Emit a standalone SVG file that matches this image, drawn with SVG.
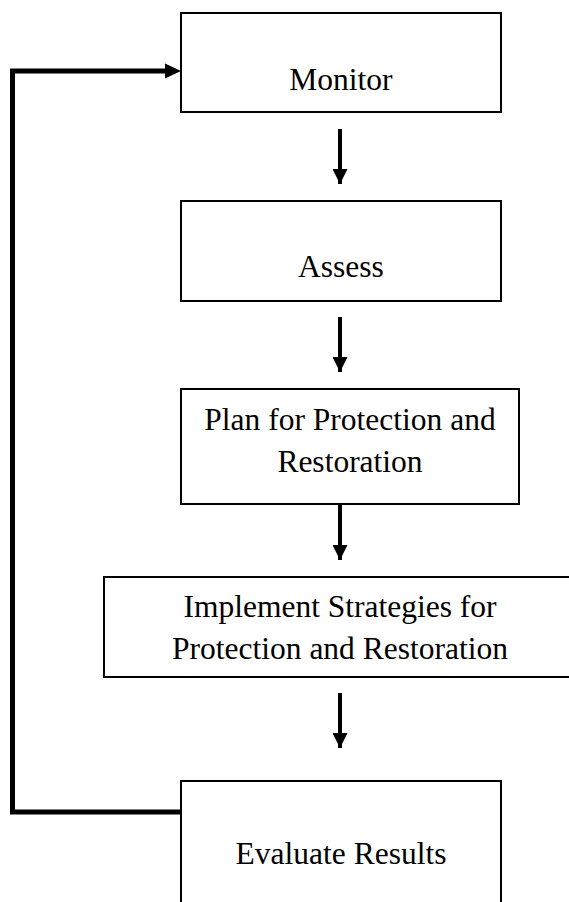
<svg xmlns="http://www.w3.org/2000/svg" width="569" height="902" viewBox="0 0 569 902">
  <style>
    .box { fill: #ffffff; stroke: #000000; stroke-width: 2; }
    .label { font-family: "Liberation Serif", "Times New Roman", serif; font-size: 31.5px; fill: #000000; text-anchor: middle; }
    .flow { fill: none; stroke: #000000; stroke-width: 4; }
    .loop { fill: none; stroke: #000000; stroke-width: 5; stroke-linejoin: miter; }
  </style>
  <defs>
    <marker id="head" markerUnits="userSpaceOnUse" viewBox="0 0 15 15" refX="15" refY="7.5" markerWidth="15" markerHeight="15" orient="auto">
      <path d="M0,0 L15,7.5 L0,15 Z" fill="#000000"/>
    </marker>
  </defs>

  <rect width="569" height="902" fill="#ffffff"/>

  <!-- connectors -->
  <g id="connectors">
    <line class="flow" x1="340" y1="129" x2="340" y2="184" marker-end="url(#head)"/>
    <line class="flow" x1="340" y1="317" x2="340" y2="372" marker-end="url(#head)"/>
    <line class="flow" x1="340" y1="505" x2="340" y2="560" marker-end="url(#head)"/>
    <line class="flow" x1="340" y1="693" x2="340" y2="748" marker-end="url(#head)"/>
    <!-- feedback loop from Evaluate Results back to Monitor -->
    <polyline class="loop" points="181,812 12.5,812 12.5,71 168,71"/>
    <path d="M165,63.5 L181,71 L165,78.5 Z" fill="#000000"/>
  </g>

  <g id="monitor">
    <rect class="box" x="181" y="13" width="320" height="99"/>
    <text class="label" x="341" y="90">Monitor</text>
  </g>

  <g id="assess">
    <rect class="box" x="181" y="201" width="320" height="100"/>
    <text class="label" x="341" y="277">Assess</text>
  </g>

  <g id="plan">
    <rect class="box" x="181" y="389" width="338" height="115"/>
    <text class="label" x="350" y="430">Plan for Protection and</text>
    <text class="label" x="350" y="472">Restoration</text>
  </g>

  <g id="implement">
    <rect class="box" x="104" y="577" width="475" height="100"/>
    <text class="label" x="340" y="617">Implement Strategies for</text>
    <text class="label" x="340" y="659">Protection and Restoration</text>
  </g>

  <g id="evaluate">
    <rect class="box" x="181" y="781" width="320" height="130"/>
    <text class="label" x="341" y="864">Evaluate Results</text>
  </g>
</svg>
